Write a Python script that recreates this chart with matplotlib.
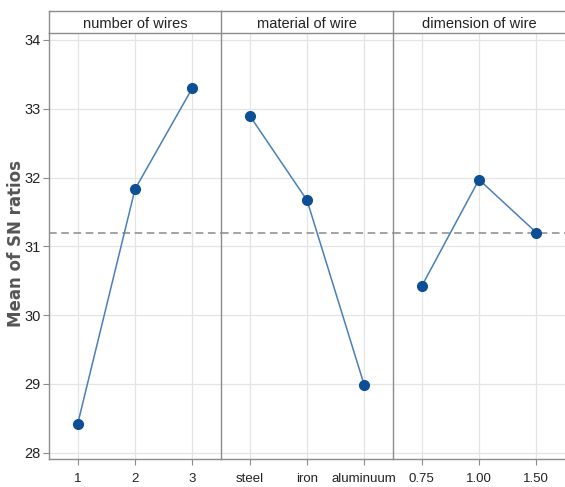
import matplotlib
matplotlib.use('Agg')
import matplotlib.pyplot as plt

# ---- data ----
factors = ['number of wires', 'material of wire', 'dimension of wire']
levels = [['1', '2', '3'],
          ['steel', 'iron', 'aluminuum'],
          ['0.75', '1.00', '1.50']]
wires_sn = [28.42, 31.83, 33.30]
material_sn = [32.90, 31.67, 28.98]
dimension_sn = [30.42, 31.97, 31.20]
overall_mean = 31.19
yticks = [28, 29, 30, 31, 32, 33, 34]

series = [wires_sn, material_sn, dimension_sn]

plt.rcParams['font.family'] = ['Liberation Sans', 'DejaVu Sans']

W, H = 565, 487
fig = plt.figure(figsize=(W/100., H/100.), dpi=100)

left, right = 49./W, 565./W
bot, top = 1 - 459./H, 1 - 33./H
strip_top = 1 - 11./H
pw = (right - left) / 3.

frame_col = '#8c8c8c'
grid_col = '#e4e4e4'
line_col = '#4a7fb8'
mark_col = '#0d4f94'
txt_col = '#222222'

for i in range(3):
    ax = fig.add_axes([left + i*pw, bot, pw, top - bot])
    x = [1, 2, 3]
    ax.axhline(overall_mean, color='#8a8a8a', ls=(0, (5, 3)), lw=1.1, zorder=2)
    ax.plot(x, series[i], color=line_col, lw=1.1, zorder=3)
    ax.plot(x, series[i], 'o', color=mark_col, ms=7, zorder=4)
    ax.set_xlim(0.5, 3.5)
    ax.set_ylim(27.91, 34.1)
    ax.set_xticks(x)
    ax.set_xticklabels(levels[i], fontsize=9.5, color=txt_col)
    ax.set_yticks(yticks)
    if i == 0:
        ax.set_yticklabels([str(t) for t in yticks], fontsize=10.5, color=txt_col)
        ax.tick_params(axis='y', length=4, color=frame_col, pad=2)
    else:
        ax.tick_params(axis='y', left=False, labelleft=False)
    ax.tick_params(axis='x', length=4, color=frame_col, pad=6)
    ax.grid(True, color=grid_col, lw=0.9)
    ax.set_axisbelow(True)
    for s in ax.spines.values():
        s.set_color(frame_col)
        s.set_linewidth(1.0)
    ax.spines['top'].set_visible(False)
    ax.spines['right'].set_visible(False)

    # strip header
    sx = fig.add_axes([left + i*pw, top, pw, strip_top - top])
    sx.set_xticks([])
    sx.set_yticks([])
    for s in sx.spines.values():
        s.set_color(frame_col)
        s.set_linewidth(1.0)
    sx.spines['right'].set_visible(False)
    sx.text(0.5, 0.4, factors[i], ha='center', va='center', fontsize=10.5,
            color=txt_col, transform=sx.transAxes)

fig.text(16./W, 0.5 * (bot + top) + 0.005, 'Mean of SN ratios', rotation=90,
         ha='center', va='center', fontsize=12, fontweight='bold',
         color='#555555', family='DejaVu Sans')

plt.savefig('out.png', dpi=100)
